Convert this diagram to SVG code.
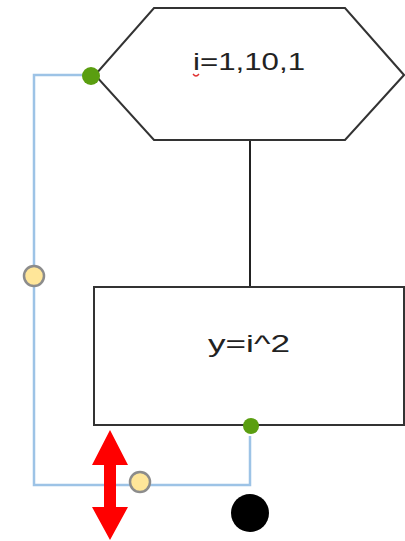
<svg xmlns="http://www.w3.org/2000/svg" width="405" height="541" viewBox="0 0 405 541">
<style>
.shape{fill:#fff;stroke:#333;stroke-width:2}
.lbl{font-family:"Liberation Sans",Arial,sans-serif;font-size:24px;fill:#222}
.conn{fill:none;stroke:#9dc3e6;stroke-width:2.5}
.hdl{fill:#ffe699;stroke:#8c8c8c;stroke-width:2.5}
.pt{fill:#5a9e10}
</style>
<rect width="405" height="541" fill="#fff"/>
<g id="connectors">
<line x1="250" y1="140" x2="250" y2="287" stroke="#222" stroke-width="2"/>
<polyline class="conn" points="84,75 34,75 34,485 250,485 250,436"/>
</g>
<g id="loop">
<polygon class="shape" points="154,8 345,8 404,75 345,140 154,140 95,75"/>
<text class="lbl" x="193" y="70" textLength="112" lengthAdjust="spacingAndGlyphs">i=1,10,1</text>
<path d="M193,74 q3,4 6,0" fill="none" stroke="#e03030" stroke-width="1.3"/>
</g>
<g id="process">
<rect class="shape" x="94" y="287" width="310" height="138"/>
<text class="lbl" x="208" y="352" textLength="82" lengthAdjust="spacingAndGlyphs">y=i^2</text>
</g>
<g id="handles">
<circle class="pt" cx="91" cy="76" r="9"/>
<circle class="pt" cx="251" cy="426" r="8"/>
<circle class="hdl" cx="34" cy="276" r="10"/>
<circle class="hdl" cx="140" cy="482" r="10"/>
<circle cx="250" cy="513" r="19" fill="#000"/>
</g>
<g id="arrow">
<polygon fill="#f00" points="110,430 128,465 116,465 116,507 128,507 110,540 92,507 104,507 104,465 92,465"/>
</g>
</svg>
